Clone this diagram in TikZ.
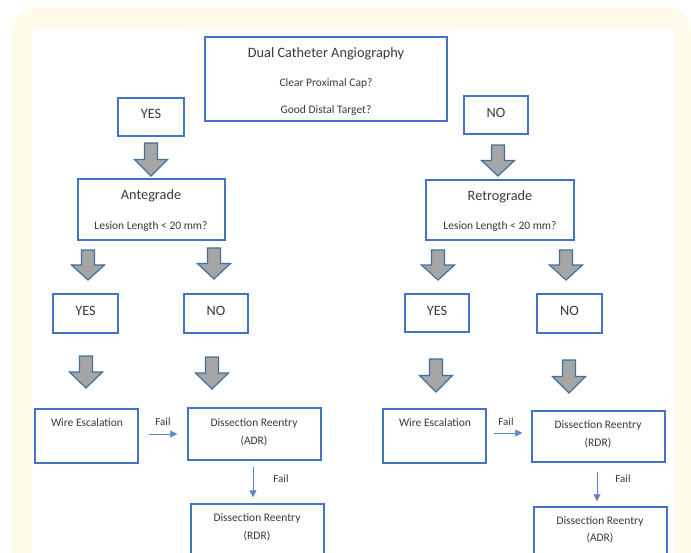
\documentclass[tikz,border=0pt]{standalone}
\usepackage{fontspec}
\setmainfont{Carlito}
\usetikzlibrary{calc,arrows.meta}
\definecolor{cream}{HTML}{FFFBEA}
\definecolor{boxblue}{HTML}{4472C4}
\definecolor{arrfill}{HTML}{A5A5A5}
\definecolor{arredge}{HTML}{41719C}
\definecolor{txt}{HTML}{3A3A3A}
\tikzset{
  box/.style={draw=boxblue, line width=1.4pt, fill=white, inner sep=0pt},
  big/.style={font=\fontsize{14.3}{16}\selectfont, text=txt, inner sep=0pt},
  small/.style={font=\fontsize{11.5}{13}\selectfont, text=txt, inner sep=0pt},
  faillbl/.style={font=\fontsize{11}{13}\selectfont, text=txt, inner sep=0pt},
  blockarr/.style={draw=arredge, line width=1.2pt, fill=arrfill, line join=miter},
  failarr/.style={draw=boxblue!85, line width=0.8pt, -{Triangle[length=7pt,width=7pt]}},
}
\newcommand\bigarrow[3]{%
  \draw[blockarr] ({#1-6.5},{#2}) -- ({#1+6.5},{#2}) -- ({#1+6.5},{#2+0.5*(#3-#2)})
    -- ({#1+16.5},{#2+0.5*(#3-#2)}) -- ({#1},{#3}) -- ({#1-16.5},{#2+0.5*(#3-#2)})
    -- ({#1-6.5},{#2+0.5*(#3-#2)}) -- cycle;}
\newcommand\boxat[5]{% name x1 y1 x2 y2
  \node[box, minimum width={(#4-#2)*1pt}, minimum height={(#5-#3)*1pt}] (#1) at ({(#2+#4)/2},{(#3+#5)/2}) {};}
\begin{document}
\begin{tikzpicture}[x=1pt,y=-1pt]
\useasboundingbox (0,0) rectangle (691,552);
\fill[white] (0,0) rectangle (691,552);
\begin{scope}
\clip (0,0) rectangle (691,552);
\fill[cream, rounded corners=25pt] (12,7) rectangle (691,600);
\fill[white] (32,29) rectangle (674,600);
\end{scope}

% boxes
\boxat{top}{205}{37}{447}{121}
\boxat{yesA}{118}{98}{184}{136}
\boxat{noA}{464}{96}{528}{134}
\boxat{ante}{78}{179}{225}{240}
\boxat{retro}{426}{180}{574}{240}
\boxat{yA}{53}{294}{118}{333}
\boxat{nA}{184}{294}{248}{333}
\boxat{yR}{405}{294}{469}{332}
\boxat{nR}{537}{294}{602}{333}
\boxat{weA}{35}{409}{138}{463}
\boxat{adrA}{188}{408}{321}{460}
\boxat{rdrA}{191}{504}{324}{575}
\boxat{weR}{383}{409}{486}{463}
\boxat{rdrR}{532}{411}{665}{462}
\boxat{adrR}{534}{507}{667}{575}

% texts
\node[big] (t1) at (326,54) {Dual Catheter Angiography};
\node[small] (t2) at (326,83) {Clear Proximal Cap?};
\node[small] (t3) at (326,110) {Good Distal Target?};
\node[big] (yesAt) at ([yshift=3pt]yesA.center) {YES};
\node[big] (noAt) at ([yshift=2.5pt]noA.center) {NO};
\node[big] (antet) at (151,196) {Antegrade};
\node[small] (antel) at (151,226) {Lesion Length < 20 mm?};
\node[big] (retrot) at (500,197) {Retrograde};
\node[small] (retrol) at (500,226) {Lesion Length < 20 mm?};
\node[big] (yAt) at ([yshift=2.5pt]yA.center) {YES};
\node[big] (nAt) at ([yshift=2.5pt]nA.center) {NO};
\node[big] (yRt) at ([yshift=2.5pt]yR.center) {YES};
\node[big] (nRt) at ([yshift=2.5pt]nR.center) {NO};
\node[small] (weAt) at (87,423) {Wire Escalation};
\node[small] (weRt) at (435,423) {Wire Escalation};
\node[small] (adrAt1) at (254,423) {Dissection Reentry};
\node[small] (adrAt2) at (254,441) {(ADR)};
\node[small] (rdrAt1) at (257,518) {Dissection Reentry};
\node[small] (rdrAt2) at (257,536) {(RDR)};
\node[small] (rdrRt1) at (598,425) {Dissection Reentry};
\node[small] (rdrRt2) at (598,443) {(RDR)};
\node[small] (adrRt1) at (600,521) {Dissection Reentry};
\node[small] (adrRt2) at (600,538) {(ADR)};

% block arrows
\bigarrow{151}{143}{176}
\bigarrow{88}{250}{280}
\bigarrow{214}{248}{279}
\bigarrow{498}{145}{176}
\bigarrow{438}{250}{280}
\bigarrow{566}{250}{280}
\bigarrow{86}{356}{388}
\bigarrow{212}{357}{389}
\bigarrow{436}{359}{392}
\bigarrow{569}{360}{393}

% fail arrows
\draw[failarr] ([xshift=10pt]weA.east |- 0,434) coordinate (fa1) -- ([xshift=-10pt]adrA.west |- 0,434) coordinate (fa2);
\node[faillbl] (fl1) at (163,422) {Fail};
\draw[failarr] ([xshift=7pt]weR.east |- 0,433) coordinate (fb1) -- ([xshift=-9pt]rdrR.west |- 0,433) coordinate (fb2);
\node[faillbl] (fl2) at (506,422) {Fail};
\draw[failarr] ([yshift=-6pt]adrA.south -| 253,0) coordinate (fc1) -- ([yshift=6pt]rdrA.north -| 253,0) coordinate (fc2);
\node[faillbl] (fl3) at (281,479) {Fail};
\draw[failarr] ([yshift=-9pt]rdrR.south -| 597,0) coordinate (fd1) -- ([yshift=5pt]adrR.north -| 597,0) coordinate (fd2);
\node[faillbl] (fl4) at (623,479) {Fail};
\end{tikzpicture}
\end{document}
